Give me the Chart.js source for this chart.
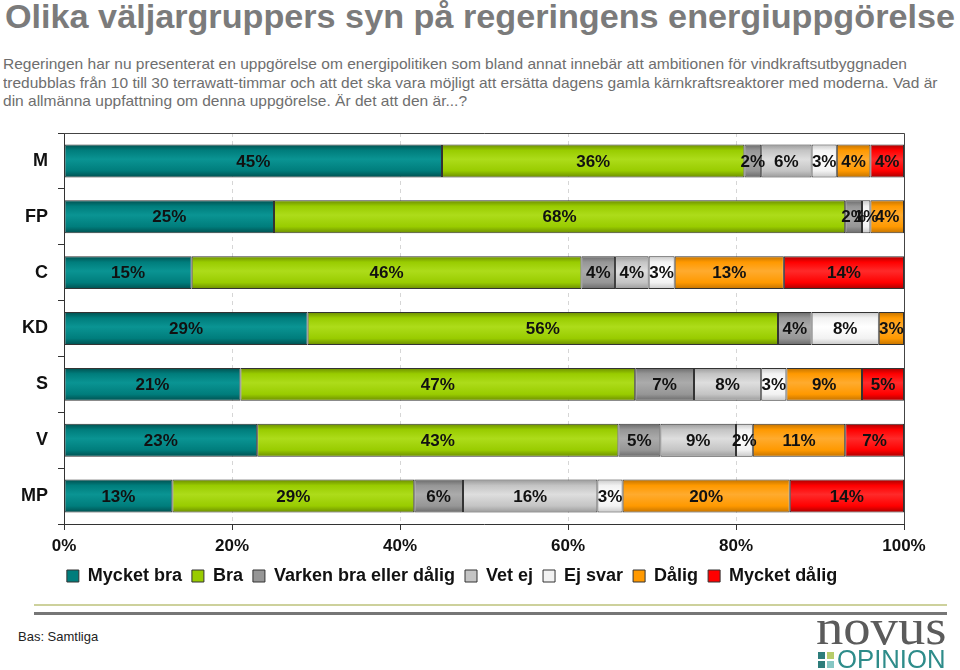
<!DOCTYPE html>
<html lang="sv">
<head>
    <meta charset="UTF-8">
    <title>Olika väljargruppers syn på regeringens energiuppgörelse</title>
    <script src="https://cdn.jsdelivr.net/npm/chart.js"></script>
    <style>
        body { margin: 0; width: 960px; height: 670px; background: #fff; position: relative; overflow: hidden;
               font-family: "Liberation Sans", Arial, sans-serif; }
        .fit { position: absolute; white-space: nowrap; transform-origin: 0 0; }
        #title { left: 5px; top: 0px; font-size: 33px; line-height: 33px; font-weight: bold; color: #7b7b7b; }
        .sub { left: 3px; font-size: 15px; line-height: 15px; color: #6e6e6e; }
        #chartBox { position: absolute; left: 0; top: 120px; }
        .rule { position: absolute; left: 34px; width: 913px; }
        #bas { position: absolute; left: 18px; top: 629px; font-size: 13px; color: #222; }
        #novus { left: 816px; top: 602px; font-family: "Liberation Serif", "DejaVu Serif", serif; font-size: 50px;
                 line-height: 50px; color: #5b5b5b; }
        #opinion { left: 837px; top: 647px; font-size: 25px; line-height: 25px; color: #2e8c8a; }
        .sq { position: absolute; width: 7px; height: 7px; }
    </style>
</head>
<body>
    <div id="title" class="fit">Olika väljargruppers syn på regeringens energiuppgörelse</div>
    <div id="sub1" class="fit sub" style="top:56px">Regeringen har nu presenterat en uppgörelse om energipolitiken som bland annat innebär att ambitionen för vindkraftsutbyggnaden</div>
    <div id="sub2" class="fit sub" style="top:75px">tredubblas från 10 till 30 terrawatt-timmar och att det ska vara möjligt att ersätta dagens gamla kärnkraftsreaktorer med moderna. Vad är</div>
    <div id="sub3" class="fit sub" style="top:93px">din allmänna uppfattning om denna uppgörelse. Är det att den är...?</div>

    <div id="chartBox"><canvas id="chart" width="960" height="480"></canvas></div>

    <div class="rule" style="top:604px;height:2px;background:#cdd19c"></div>
    <div class="rule" style="top:612px;height:3px;background:#767676"></div>
    <div id="bas">Bas: Samtliga</div>
    <div id="novus" class="fit">novus</div>
    <div class="sq" style="left:818px;top:652px;background:#2d7d7b"></div>
    <div class="sq" style="left:827px;top:652px;background:#b7cc6a"></div>
    <div class="sq" style="left:818px;top:661px;background:#2d7d7b"></div>
    <div class="sq" style="left:827px;top:661px;background:#86c7c4"></div>
    <div id="opinion" class="fit">OPINION</div>

    <script>
        // väljargrupper
        const partier = ['M', 'FP', 'C', 'KD', 'S', 'V', 'MP'];
        const svarLabels = ['Mycket bra', 'Bra', 'Varken bra eller dålig', 'Vet ej', 'Ej svar', 'Dålig', 'Mycket dålig'];

        // andelar i procent, samma ordning som partier (etiketterna visas avrundade)
        const mycketBra   = [45, 25, 15.2, 29, 21, 23, 12.9];
        const bra         = [36, 68, 46.4, 56, 47, 43, 28.8];
        const varken      = [2, 2, 4, 4, 7, 5, 5.8];
        const vetEj       = [6, 0, 4, 0, 8, 9, 16];
        const ejSvar      = [3, 1, 3.1, 8, 3, 2, 3];
        const dalig       = [4, 4, 13, 3, 9, 11, 19.9];
        const mycketDalig = [4, 0, 14.3, 0, 5, 7, 13.6];

        const xTicks = [0, 20, 40, 60, 80, 100];

        // färger: mörk kant, bas, ljus mitt
        const farger = [
            ['#004f4f', '#007d7c', '#0a9493'],
            ['#6b8c00', '#99cc00', '#addc1a'],
            ['#6a6a6a', '#969696', '#ababab'],
            ['#9a9a9a', '#c4c4c4', '#dedede'],
            ['#c8c8c8', '#f2f2f2', '#ffffff'],
            ['#c27200', '#ff9900', '#ffab2e'],
            ['#a80000', '#ff0000', '#ff2a2a']
        ];

        // fit text to measured widths
        function fitWidth(id, w) {
            const el = document.getElementById(id);
            el.style.transform = 'scaleX(' + (w / el.scrollWidth) + ')';
        }
        fitWidth('title', 950);
        const sub1 = document.getElementById('sub1');
        const s = 904 / sub1.scrollWidth;
        ['sub1', 'sub2', 'sub3'].forEach(id => {
            document.getElementById(id).style.transform = 'scaleX(' + s + ')';
        });
        fitWidth('novus', 130);
        fitWidth('opinion', 109);

        function barFill(i) {
            return function(ctx) {
                const c = farger[i];
                const chart = ctx.chart;
                const y = chart.scales && chart.scales.y;
                if (ctx.type !== 'data' || ctx.dataIndex === undefined || !y || !chart.chartArea) return c[1];
                const cy = y.getPixelForValue(ctx.dataIndex);
                const h = (y.height / partier.length) * 0.59;
                const g = chart.ctx.createLinearGradient(0, cy - h / 2, 0, cy + h / 2);
                g.addColorStop(0, c[0]);
                g.addColorStop(0.18, c[1]);
                g.addColorStop(0.45, c[2]);
                g.addColorStop(0.8, c[1]);
                g.addColorStop(1, c[0]);
                return g;
            };
        }

        const serier = [mycketBra, bra, varken, vetEj, ejSvar, dalig, mycketDalig];
        const datasets = serier.map((d, i) => ({
            label: svarLabels[i],
            data: d,
            backgroundColor: barFill(i),
            borderColor: '#333',
            borderWidth: 1,
            borderSkipped: false,
            barPercentage: 0.59,
            categoryPercentage: 1
        }));

        // procentetiketter mitt i varje segment
        const etiketter = {
            id: 'etiketter',
            afterDatasetsDraw(chart) {
                const ctx = chart.ctx;
                ctx.save();
                ctx.font = 'bold 17px "Liberation Sans", Arial, sans-serif';
                ctx.fillStyle = '#111';
                ctx.textAlign = 'center';
                ctx.textBaseline = 'middle';
                chart.data.datasets.forEach((ds, di) => {
                    chart.getDatasetMeta(di).data.forEach((bar, i) => {
                        const v = ds.data[i];
                        if (!v) return;
                        ctx.fillText(Math.round(v) + '%', (bar.x + bar.base) / 2, bar.y + 1);
                    });
                });
                ctx.restore();
            }
        };

        // ram runt diagrammet
        const ram = {
            id: 'ram',
            afterDraw(chart) {
                const a = chart.chartArea;
                const ctx = chart.ctx;
                ctx.save();
                ctx.strokeStyle = '#444';
                ctx.lineWidth = 1;
                ctx.beginPath();
                ctx.moveTo(a.left, a.top + 0.5);
                ctx.lineTo(a.right + 0.5, a.top + 0.5);
                ctx.lineTo(a.right + 0.5, a.bottom);
                ctx.stroke();
                ctx.restore();
            }
        };

        new Chart(document.getElementById('chart'), {
            type: 'bar',
            data: { labels: partier, datasets: datasets },
            plugins: [etiketter, ram],
            options: {
                indexAxis: 'y',
                responsive: false,
                animation: false,
                layout: { padding: { top: 13, right: 56, left: 0, bottom: 5 } },
                scales: {
                    x: {
                        stacked: true,
                        min: 0,
                        max: 100,
                        afterBuildTicks: (sc) => { sc.ticks = xTicks.map(v => ({ value: v })); },
                        afterFit: (sc) => { sc.height = 33; sc.paddingLeft = 0; sc.paddingRight = 0; },
                        ticks: {
                            callback: v => v + '%',
                            color: '#111',
                            padding: 6,
                            maxRotation: 0,
                            font: { family: '"Liberation Sans", Arial, sans-serif', size: 17, weight: 'bold' }
                        },
                        grid: { color: '#d6d6d6', tickColor: '#333', tickLength: 6, lineWidth: 1 },
                        border: { color: '#333', dash: [4, 4] }
                    },
                    y: {
                        stacked: true,
                        afterFit: (sc) => { sc.width = 64; sc.paddingTop = 0; sc.paddingBottom = 0; },
                        ticks: {
                            color: '#111',
                            padding: 10,
                            font: { family: '"Liberation Sans", Arial, sans-serif', size: 18, weight: 'bold' }
                        },
                        grid: { drawOnChartArea: false, tickColor: '#333', tickLength: 6 },
                        border: { color: '#333' }
                    }
                },
                plugins: {
                    legend: {
                        position: 'bottom',
                        labels: {
                            boxWidth: 12,
                            boxHeight: 12,
                            padding: 10,
                            color: '#111',
                            font: { family: '"Liberation Sans", Arial, sans-serif', size: 18, weight: 'bold' },
                            generateLabels: (chart) => {
                                const items = Chart.defaults.plugins.legend.labels.generateLabels(chart);
                                items.forEach((it, i) => {
                                    it.fillStyle = farger[i][1];
                                    it.strokeStyle = '#333';
                                    it.lineWidth = 1;
                                });
                                return items;
                            }
                        }
                    },
                    tooltip: { enabled: false }
                }
            }
        });
    </script>
</body>
</html>
